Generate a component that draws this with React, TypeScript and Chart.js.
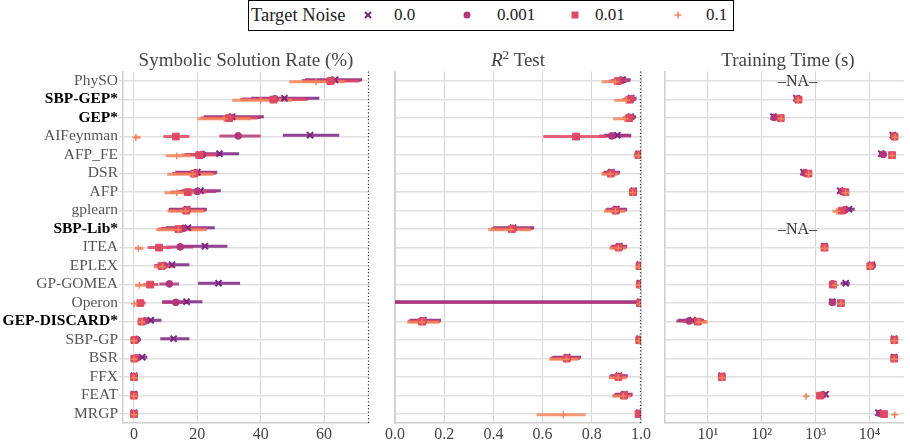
import React, { useEffect, useRef } from "react";
import { Chart, registerables } from "chart.js";

Chart.register(...registerables);

// ---------------- data ----------------
const categories = [
  "PhySO", "SBP-GEP*", "GEP*", "AIFeynman", "AFP_FE", "DSR", "AFP", "gplearn", "SBP-Lib*",
  "ITEA", "EPLEX", "GP-GOMEA", "Operon", "GEP-DISCARD*", "SBP-GP", "BSR", "FFX", "FEAT", "MRGP",
];
const boldMethods = ["SBP-GEP*", "GEP*", "SBP-Lib*", "GEP-DISCARD*"];
const noiseLevels = ["0.0", "0.001", "0.01", "0.1"];

const ssrTicks = [0, 20, 40, 60];
const r2Ticks = [0, 0.2, 0.4, 0.6, 0.8, 1.0];
const timeTicks = [10, 100, 1000, 10000];

// Symbolic solution rate (%) — mean, low, high per noise level
const ssrMean00 = [63.5, 47.5, 31, 55.6, 27, 20, 21, 16.8, 17, 22.4, 12, 26.7, 16.6, 5.3, 12.5, 2.6, 0, 0, 0];
const ssrLow00 = [54, 37, 22, 47, 21, 13, 15, 11, 10, 13.5, 7.5, 20.2, 8.9, 2, 8.3, 0.8, 0, 0, 0];
const ssrHigh00 = [72, 58.5, 41, 64.8, 33.2, 26.3, 27.4, 23, 25.5, 29.5, 17.5, 33.5, 21.6, 8.7, 17.5, 4.2, 0, 0, 0];

const ssrMean0001 = [62.5, 44.5, 30.5, 32.9, 21.7, 19.5, 20, 16.6, 15.5, 14.6, 9.5, 11.2, 13.2, 3.5, 0.8, 0.8, 0, 0, 0];
const ssrLow0001 = [53, 34, 22, 27, 16, 13, 14, 11, 8.5, 10.3, 6.5, 8, 8.9, 1.5, 0, 0, 0, 0, 0];
const ssrHigh0001 = [71.5, 55, 40, 40, 27.5, 26, 26, 22.8, 23, 18.7, 13, 14.2, 17.7, 6, 2.2, 2, 0, 0, 0];

const ssrMean001 = [62, 44, 30, 13.2, 20.6, 19, 17, 16.5, 14, 7.9, 8.7, 5.1, 2, 2.4, 0.1, 0.1, 0, 0, 0];
const ssrLow001 = [53, 33.5, 21, 9.3, 15, 12, 11.5, 11, 7.5, 4.3, 6.3, 2.9, 1.2, 1.2, 0, 0, 0, 0, 0];
const ssrHigh001 = [71, 54.5, 39, 17.5, 26, 25.5, 23, 22.5, 21.5, 11.9, 12, 7.7, 3.7, 4, 0.5, 0.5, 0, 0, 0];

const ssrMean01 = [57.5, 40, 28.5, 0.6, 13.5, 18.5, 13.5, 16.3, 14, 1.4, 9, 1.7, 0.1, 2.5, 0, 0, 0, 0, 0];
const ssrLow01 = [49, 31, 20, 0, 10, 10.5, 9.6, 10.6, 7, 0.3, 6.5, 0.3, 0, 1.1, 0, 0, 0, 0, 0];
const ssrHigh01 = [66.5, 50, 37, 2.1, 18, 25, 19, 22, 23, 2.9, 13, 4, 0.6, 4.5, 0, 0, 0, 0, 0];

// R^2 test
const r2Mean00 = [0.925, 0.96, 0.958, 0.904, 0.99, 0.88, 0.97, 0.9, 0.48, 0.912, 0.995, 0.996, 0.997, 0.115, 0.994, 0.7, 0.91, 0.933, 0.993];
const r2Low00 = [0.89, 0.935, 0.935, 0.85, 0.975, 0.85, 0.955, 0.86, 0.4, 0.88, 0.99, 0.99, -5, 0.06, 0.99, 0.64, 0.875, 0.895, 0.985];
const r2High00 = [0.958, 0.982, 0.98, 0.96, 1.0, 0.915, 0.984, 0.944, 0.566, 0.944, 1.0, 1.0, 1.0, 0.187, 1.0, 0.756, 0.946, 0.966, 1.0];

const r2Mean0001 = [0.92, 0.958, 0.955, 0.881, 0.99, 0.878, 0.969, 0.898, 0.478, 0.91, 0.995, 0.996, 0.997, 0.112, 0.994, 0.698, 0.908, 0.932, 0.993];
const r2Low0001 = [0.88, 0.93, 0.93, 0.83, 0.975, 0.845, 0.953, 0.855, 0.395, 0.875, 0.99, 0.99, -5, 0.055, 0.99, 0.635, 0.872, 0.89, 0.985];
const r2High0001 = [0.955, 0.98, 0.978, 0.96, 1.0, 0.912, 0.984, 0.94, 0.56, 0.942, 1.0, 1.0, 1.0, 0.185, 1.0, 0.752, 0.944, 0.964, 1.0];

const r2Mean001 = [0.905, 0.955, 0.952, 0.736, 0.99, 0.877, 0.968, 0.897, 0.475, 0.909, 0.994, 0.995, 0.996, 0.11, 0.993, 0.698, 0.908, 0.931, 0.99];
const r2Low001 = [0.87, 0.925, 0.925, 0.603, 0.975, 0.842, 0.952, 0.853, 0.39, 0.874, 0.988, 0.99, 0.99, 0.052, 0.988, 0.63, 0.87, 0.886, 0.98];
const r2High001 = [0.945, 0.978, 0.975, 0.86, 1.0, 0.91, 0.983, 0.94, 0.555, 0.94, 1.0, 1.0, 1.0, 0.182, 1.0, 0.75, 0.942, 0.962, 1.0];

const r2Mean01 = [0.895, 0.94, 0.935, null, 0.99, 0.875, 0.967, 0.896, 0.47, 0.908, 0.993, 0.994, 0.995, 0.11, 0.992, 0.697, 0.907, 0.928, 0.684];
const r2Low01 = [0.84, 0.891, 0.887, null, 0.97, 0.839, 0.95, 0.85, 0.379, 0.872, 0.987, 0.988, 0.985, 0.05, 0.987, 0.627, 0.87, 0.883, 0.576];
const r2High01 = [0.94, 0.97, 0.965, null, 1.0, 0.905, 0.982, 0.935, 0.55, 0.938, 1.0, 1.0, 1.0, 0.18, 1.0, 0.745, 0.94, 0.958, 0.775];

// Training time (s)
const ttMean00 = [null, 440, 165, 27000, 16500, 594, 2850, 4140, null, 1450, 11000, 3610, 2040, 5.2, 28500, 28500, 18.1, 1530, 14600];
const ttLow00 = [null, 390, 150, 25500, 15000, 560, 2650, 3300, null, 1380, 10300, 2900, 1950, 2.8, 27500, 27500, 17, 1400, 13500];
const ttHigh00 = [null, 500, 180, 28500, 18000, 630, 3050, 5300, null, 1520, 11700, 4300, 2130, 8.5, 29500, 29500, 19.2, 1650, 15700];

const ttMean0001 = [null, 470, 170, 28000, 17900, 620, 3100, 3500, null, 1450, 11200, 2050, 2040, 4.5, 28700, 28600, 18.1, 1350, 15500];
const ttLow0001 = [null, 430, 155, 26500, 16500, 590, 2950, 2900, null, 1390, 10500, 1950, 1950, 2.6, 27800, 27700, 17, 1250, 14500];
const ttHigh0001 = [null, 510, 185, 29500, 19500, 660, 3250, 4300, null, 1510, 11900, 2200, 2130, 7.5, 29700, 29500, 19.2, 1450, 16500];

const ttMean001 = [null, 480, 225, 29000, 26100, 733, 3560, 3060, null, 1460, 10300, 2100, 2940, 6.5, 28800, 28600, 18.2, 1205, 18500];
const ttLow001 = [null, 440, 215, 28000, 25000, 700, 3400, 2500, null, 1400, 9800, 2000, 2850, 3.5, 28000, 27800, 17.2, 1120, 17500];
const ttHigh001 = [null, 520, 240, 30000, 27200, 770, 3720, 3700, null, 1520, 10800, 2200, 3030, 9.5, 29600, 29400, 19.3, 1290, 19500];

const ttMean01 = [null, 475, 228, 29500, 26300, 740, 3580, 2480, null, 1460, 10400, 2320, 2950, 6.8, 28900, 28700, 18.2, 665, 29200];
const ttLow01 = [null, 440, 215, 28500, 25200, 705, 3420, 2050, null, 1400, 9900, 2200, 2860, 4, 28100, 27900, 17.2, 630, 28000];
const ttHigh01 = [null, 520, 240, 30500, 27400, 780, 3740, 3000, null, 1520, 10900, 2450, 3040, 10, 29700, 29500, 19.3, 700, 30400];

const naLabelSeconds = 460; // where the "NA" note sits on the time axis

// ---------------- styles ----------------
const FONT = '"Liberation Serif", "Times New Roman", serif';
const NOISE_COLORS = ["#7b2382", "#b3367a", "#df4a62", "#f4865b"];
const DODGE = [-0.06, -0.02, 0.02, 0.06];
const MARKERS = [
  { style: "crossRot", radius: 4.3, border: 2 },
  { style: "circle", radius: 3.4, border: 1 },
  { style: "rect", radius: 4.8, border: 1 },
  { style: "cross", radius: 3.4, border: 1.5 },
];
const SUP: Record<number, string> = { 0: "⁰", 1: "¹", 2: "²", 3: "³", 4: "⁴" };

function rgba(hex: string, a: number) {
  const n = parseInt(hex.slice(1), 16);
  return `rgba(${(n >> 16) & 255},${(n >> 8) & 255},${n & 255},${a})`;
}

type Arr = (number | null)[];

function buildDatasets(means: Arr[], lows: Arr[], highs: Arr[]) {
  const lines: any[] = [];
  const marks: any[] = [];
  noiseLevels.forEach((lvl, k) => {
    const lineData: any[] = [];
    const markData: any[] = [];
    means[k].forEach((m, i) => {
      if (m == null) return;
      const y = i + DODGE[k];
      lineData.push({ x: lows[k][i], y }, { x: highs[k][i], y }, { x: null, y: null });
      markData.push({ x: m, y });
    });
    lines.push({
      type: "scatter",
      label: lvl + " interval",
      data: lineData,
      showLine: true,
      spanGaps: false,
      borderColor: rgba(NOISE_COLORS[k], 0.85),
      borderWidth: 3,
      pointRadius: 0,
      order: 8 - k,
    });
    marks.push({
      type: "scatter",
      label: lvl,
      data: markData,
      pointStyle: MARKERS[k].style,
      pointRadius: MARKERS[k].radius,
      pointBorderWidth: MARKERS[k].border,
      borderWidth: MARKERS[k].border,
      backgroundColor: NOISE_COLORS[k],
      borderColor: NOISE_COLORS[k],
      order: 4 - k,
    });
  });
  return [...lines, ...marks];
}

function yScale(showLabels: boolean) {
  return {
    type: "linear",
    reverse: true,
    min: -0.5,
    max: 18.5,
    bounds: "data",
    afterBuildTicks: (s: any) => {
      s.ticks = categories.map((_, i) => ({ value: i }));
    },
    afterFit: (s: any) => {
      s.width = showLabels ? 123 : 0;
    },
    grid: {
      color: "#e0e0e0",
      lineWidth: 1.5,
      drawTicks: showLabels,
      tickLength: 4,
      tickColor: "#cfcfcf",
      tickWidth: 1,
    },
    border: { display: true, color: "#cfcfcf", width: 1.5 },
    ticks: {
      display: showLabels,
      autoSkip: false,
      padding: 1,
      callback: (v: number) => categories[v],
      font: (ctx: any) => ({
        family: FONT,
        size: 15.5,
        weight: boldMethods.includes(categories[ctx.index]) ? "bold" : "normal",
      }),
      color: (ctx: any) => (boldMethods.includes(categories[ctx.index]) ? "#000000" : "#555555"),
    },
  };
}

function xScaleBase(tickValues: number[], extra: any) {
  return {
    bounds: "data",
    afterBuildTicks: (s: any) => {
      s.ticks = tickValues.map((v) => ({ value: v }));
    },
    afterFit: (s: any) => {
      s.height = 20;
    },
    grid: { color: "#d6d6d6", lineWidth: 1, drawTicks: false },
    border: { display: true, color: "#cfcfcf", width: 1.5 },
    ticks: {
      autoSkip: false,
      maxRotation: 0,
      padding: 2,
      color: "#444444",
      font: { family: FONT, size: 16 },
      ...extra.ticks,
    },
    ...extra.scale,
  };
}

const rightDotted = {
  id: "rightDotted",
  afterDraw(chart: any) {
    const { ctx, chartArea: a } = chart;
    ctx.save();
    ctx.strokeStyle = "#333333";
    ctx.lineWidth = 1.2;
    ctx.setLineDash([1.2, 2.2]);
    ctx.beginPath();
    ctx.moveTo(a.right - 0.5, a.top);
    ctx.lineTo(a.right - 0.5, a.bottom);
    ctx.stroke();
    ctx.restore();
  },
};

const naNote = {
  id: "naNote",
  afterDatasetsDraw(chart: any) {
    const { ctx } = chart;
    const xs = chart.scales.x;
    const ys = chart.scales.y;
    ctx.save();
    ctx.font = `16px ${FONT}`;
    ctx.fillStyle = "#333333";
    ctx.textAlign = "center";
    ctx.textBaseline = "middle";
    categories.forEach((_, i) => {
      if (ttMean00[i] == null) {
        ctx.fillText("–NA–", xs.getPixelForValue(naLabelSeconds), ys.getPixelForValue(i) + 1);
      }
    });
    ctx.restore();
  },
};

function panelConfig(datasets: any[], x: any, showY: boolean, padding: any, plugins: any[]) {
  return {
    type: "scatter",
    data: { datasets },
    options: {
      responsive: false,
      animation: false,
      events: [],
      layout: { padding },
      plugins: { legend: { display: false }, tooltip: { enabled: false }, title: { display: false } },
      scales: { x, y: yScale(showY) },
    },
    plugins,
  } as any;
}

const TOP = 60;
const CH = 383;

function LegendMarker({ k }: { k: number }) {
  const c = NOISE_COLORS[k];
  return (
    <svg width="12" height="12" viewBox="-6 -6 12 12" style={{ display: "block" }}>
      {k === 0 && (
        <g stroke={c} strokeWidth="2">
          <line x1="-3" y1="-3" x2="3" y2="3" />
          <line x1="-3" y1="3" x2="3" y2="-3" />
        </g>
      )}
      {k === 1 && <circle cx="0" cy="0" r="3.5" fill={c} />}
      {k === 2 && <rect x="-3.5" y="-3.5" width="7" height="7" fill={c} />}
      {k === 3 && (
        <g stroke={c} strokeWidth="1.5">
          <line x1="-3.5" y1="0" x2="3.5" y2="0" />
          <line x1="0" y1="-3.5" x2="0" y2="3.5" />
        </g>
      )}
    </svg>
  );
}

export default function App() {
  const c1 = useRef<HTMLCanvasElement>(null);
  const c2 = useRef<HTMLCanvasElement>(null);
  const c3 = useRef<HTMLCanvasElement>(null);

  useEffect(() => {
    const ssrDs = buildDatasets(
      [ssrMean00, ssrMean0001, ssrMean001, ssrMean01],
      [ssrLow00, ssrLow0001, ssrLow001, ssrLow01],
      [ssrHigh00, ssrHigh0001, ssrHigh001, ssrHigh01]
    );
    const r2Ds = buildDatasets(
      [r2Mean00, r2Mean0001, r2Mean001, r2Mean01],
      [r2Low00, r2Low0001, r2Low001, r2Low01],
      [r2High00, r2High0001, r2High001, r2High01]
    );
    const ttDs = buildDatasets(
      [ttMean00, ttMean0001, ttMean001, ttMean01],
      [ttLow00, ttLow0001, ttLow001, ttLow01],
      [ttHigh00, ttHigh0001, ttHigh001, ttHigh01]
    );

    const x1 = xScaleBase(ssrTicks, {
      scale: { type: "linear", min: -3.47, max: 74.2 },
      ticks: { callback: (v: number) => String(v) },
    });
    const x2 = xScaleBase(r2Ticks, {
      scale: { type: "linear", min: 0, max: 1 },
      ticks: { callback: (v: number) => Number(v).toFixed(1) },
    });
    const x3 = xScaleBase(timeTicks, {
      scale: { type: "logarithmic", min: 1.603, max: 42920 },
      ticks: { callback: (v: number) => "10" + SUP[Math.round(Math.log10(v))] },
    });

    const charts = [
      new Chart(c1.current!, panelConfig(ssrDs, x1, true, { left: 0, top: 11.5, right: 16, bottom: 0 }, [rightDotted])),
      new Chart(c2.current!, panelConfig(r2Ds, x2, false, { left: 15, top: 11.5, right: 14, bottom: 0 }, [rightDotted])),
      new Chart(c3.current!, panelConfig(ttDs, x3, false, { left: 15, top: 11.5, right: 0, bottom: 0 }, [naNote])),
    ];
    return () => charts.forEach((c) => c.destroy());
  }, []);

  const titleStyle = (cx: number): React.CSSProperties => ({
    position: "absolute",
    left: cx - 150,
    width: 300,
    top: 48,
    lineHeight: "24px",
    textAlign: "center",
    fontSize: 19,
    color: "#444444",
    whiteSpace: "nowrap",
  });

  const legendLabel = (left: number, text: string, size: number) => (
    <div
      style={{
        position: "absolute",
        left,
        top: 4,
        lineHeight: "22px",
        fontSize: size,
        color: "#222222",
        whiteSpace: "nowrap",
      }}
    >
      {text}
    </div>
  );

  const markerX = [368, 467, 575, 678];
  const labelX = [394, 497, 595, 706];

  return (
    <div
      style={{
        position: "absolute",
        left: 0,
        top: 0,
        width: 910,
        height: 443,
        overflow: "hidden",
        background: "#ffffff",
        fontFamily: FONT,
      }}
    >
      <canvas ref={c1} width={385} height={CH} style={{ position: "absolute", left: 0, top: TOP, width: 385, height: CH }} />
      <canvas ref={c2} width={275} height={CH} style={{ position: "absolute", left: 380, top: TOP, width: 275, height: CH }} />
      <canvas ref={c3} width={260} height={CH} style={{ position: "absolute", left: 650, top: TOP, width: 260, height: CH }} />

      <div style={titleStyle(246)}>Symbolic Solution Rate (%)</div>
      <div style={titleStyle(518)}>
        <i>R</i>
        <sup style={{ fontSize: "0.7em", lineHeight: 0, verticalAlign: "0.55em" }}>2</sup> Test
      </div>
      <div style={titleStyle(788)}>Training Time (s)</div>

      <div
        style={{
          position: "absolute",
          left: 248,
          top: 0,
          width: 486,
          height: 31,
          boxSizing: "border-box",
          border: "1px solid #000000",
          background: "#ffffff",
        }}
      />
      {legendLabel(251, "Target Noise", 18.5)}
      {noiseLevels.map((lvl, k) => (
        <React.Fragment key={lvl}>
          <div style={{ position: "absolute", left: markerX[k] - 6, top: 9 }}>
            <LegendMarker k={k} />
          </div>
          {legendLabel(labelX[k], lvl, 17)}
        </React.Fragment>
      ))}
    </div>
  );
}
